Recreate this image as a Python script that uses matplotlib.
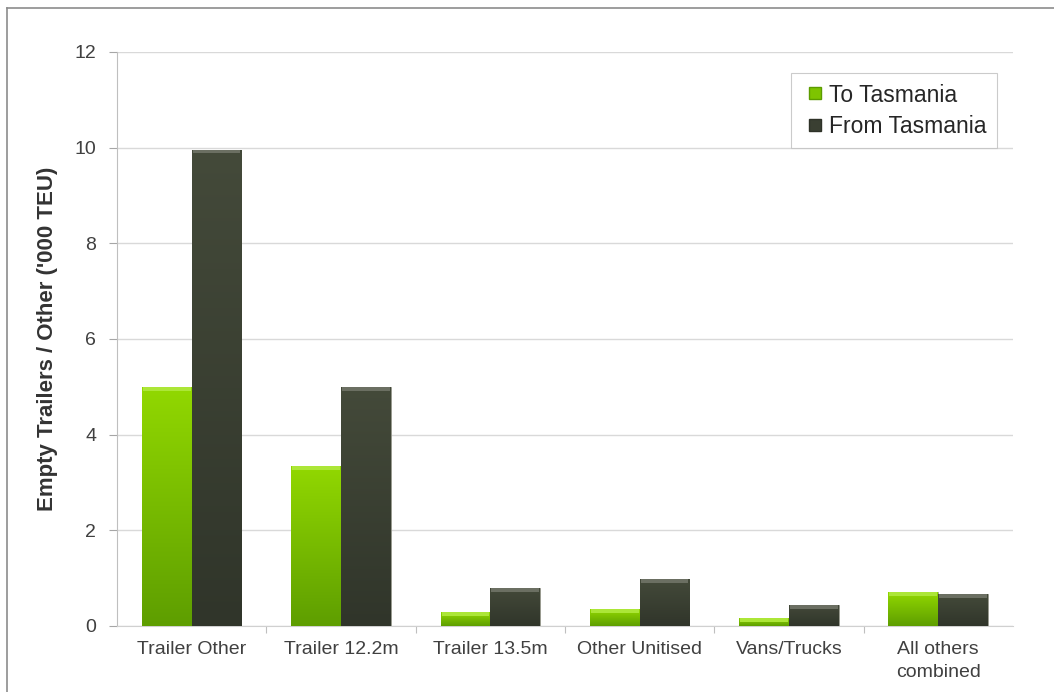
import numpy as np
import matplotlib
matplotlib.use("Agg")
import matplotlib.pyplot as plt
from matplotlib.colors import LinearSegmentedColormap
from matplotlib.lines import Line2D

plt.rcParams['font.family'] = ['Liberation Sans', 'DejaVu Sans']

categories = ['Trailer Other', 'Trailer 12.2m', 'Trailer 13.5m',
              'Other Unitised', 'Vans/Trucks', 'All others\ncombined']
to_tas = [5.0, 3.35, 0.29, 0.35, 0.17, 0.70]
from_tas = [9.96, 5.0, 0.80, 0.98, 0.44, 0.66]
series_names = ['To Tasmania', 'From Tasmania']

green_top, green_bot = '#92d800', '#5e9e00'
dark_top, dark_bot = '#444a3a', '#30352a'

fig = plt.figure(figsize=(10.54, 6.92), dpi=100)
ax = fig.add_axes([0.111, 0.0954, 0.85, 0.8295])

x = np.arange(len(categories))
w = 1 / 3


def shaded_bars(xpos, vals, c_top, c_bot, bevel):
    bars = ax.bar(xpos, vals, w, color=c_bot, edgecolor='#9a9c90',
                  linewidth=0.6, zorder=3)
    cmap = LinearSegmentedColormap.from_list('g', [c_bot, c_top])
    grad = np.linspace(0, 1, 256).reshape(-1, 1)
    for b in bars:
        x0, y0 = b.get_x(), b.get_y()
        bw, bh = b.get_width(), b.get_height()
        im = ax.imshow(grad, cmap=cmap, aspect='auto', origin='lower',
                       extent=[x0, x0 + bw, y0, y0 + bh], zorder=3.5)
        im.set_clip_path(b)
    # light bevel along the top edge
    ax.bar(xpos, [0.08] * len(vals), w * 0.96, bottom=np.array(vals) - 0.08,
           color=bevel, linewidth=0, zorder=4)
    return bars


shaded_bars(x - w / 2, to_tas, green_top, green_bot, '#ace637')
shaded_bars(x + w / 2, from_tas, dark_top, dark_bot, '#6b6f62')

ax.set_xlim(-0.5, len(categories) - 0.5)
ax.set_ylim(0, 12)
ax.set_yticks(range(0, 13, 2))
ax.set_xticks(x)
ax.set_xticklabels(categories, linespacing=1.45)
ax.tick_params(axis='x', length=0, pad=11, labelsize=14, labelcolor='#404040')
ax.tick_params(axis='y', length=6, width=0.8, color='#a6a6a6', pad=9,
               labelsize=14, labelcolor='#404040')
ax.set_xticks(np.arange(0.5, len(categories) - 0.5), minor=True)
ax.tick_params(axis='x', which='minor', length=5, width=0.8, color='#bfbfbf')

ax.grid(axis='y', color='#d9d9d9', linewidth=1, zorder=0)
ax.set_axisbelow(True)
for side in ['top', 'right']:
    ax.spines[side].set_visible(False)
ax.spines['left'].set_color('#bfbfbf')
ax.spines['bottom'].set_color('#d0d0d0')

ax.set_ylabel("Empty Trailers / Other ('000 TEU)", fontsize=16,
              fontweight='bold', color='#333333', labelpad=12)

handles = [Line2D([], [], linestyle='none', marker='s', markersize=8,
                  markerfacecolor='#7ec400', markeredgecolor='#5c9c00'),
           Line2D([], [], linestyle='none', marker='s', markersize=8,
                  markerfacecolor='#3a3f32', markeredgecolor='#2e3228')]
leg = ax.legend(handles, series_names, loc='upper right',
                bbox_to_anchor=(0.982, 0.963), fontsize=16.5, fancybox=False,
                handlelength=1.2, handletextpad=0.0,
                borderpad=0.45, labelspacing=0.35, borderaxespad=0)
leg.get_frame().set_edgecolor('#bfbfbf')
leg.get_frame().set_linewidth(0.8)
for t in leg.get_texts():
    t.set_color('#262626')

# outer frame (left and top edges)
fig.add_artist(Line2D([7 / 1054, 7 / 1054], [0, 1 - 8 / 692],
                      color='#8c8c8c', linewidth=1.2))
fig.add_artist(Line2D([7 / 1054, 1], [1 - 8 / 692, 1 - 8 / 692],
                      color='#8c8c8c', linewidth=1.2))

fig.savefig('out.png', dpi=100)
